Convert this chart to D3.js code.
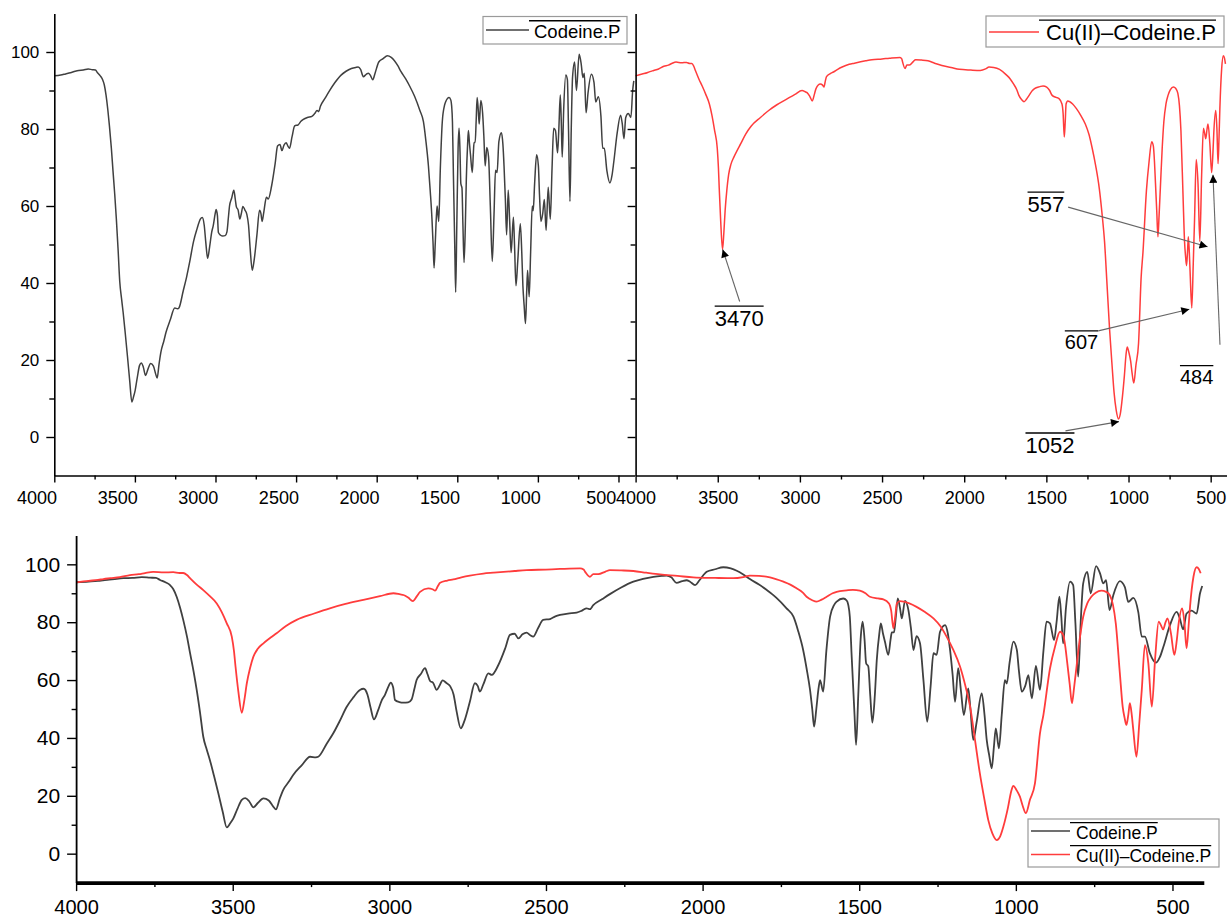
<!DOCTYPE html>
<html>
<head>
<meta charset="utf-8">
<script src="https://cdn.jsdelivr.net/npm/d3@7"></script>
<style>
  html, body { margin: 0; padding: 0; background: #fff; }
  svg { display: block; }
  text { font-family: "Liberation Sans", Arial, sans-serif; fill: #000; }
</style>
</head>
<body>
<svg id="chart" width="1227" height="920"></svg>
<script>
// ---------------- DATA ----------------
const seriesNames = ["Codeine.P", "Cu(II)\u2013Codeine.P"];

// Codeine.P : [wavenumber (cm-1), transmittance (%)]
const codeineSpectrum = [
  [4000, 93.8], [3960, 94.0], [3930, 94.3], [3900, 94.6], [3870, 95.0], [3849, 95.2], [3820, 95.3],
  [3790, 95.6], [3764, 95.4], [3745, 95.3], [3732, 94.6], [3715, 93.8], [3700, 92.8], [3690, 91.5],
  [3679, 88.8], [3668, 85.0], [3658, 80.8], [3646, 75.0], [3636, 69.2], [3625, 63.0], [3615, 56.6],
  [3604, 48.5], [3594, 40.4], [3583, 36.0], [3573, 32.4], [3560, 27.0], [3546, 20.9], [3532, 14.5],
  [3519, 9.1], [3508, 10.5], [3498, 12.2], [3485, 15.5], [3471, 18.6], [3460, 19.2], [3448, 18.2],
  [3434, 16.0], [3420, 17.5], [3402, 19.1], [3385, 18.4], [3370, 16.2], [3362, 15.3], [3350, 19.0],
  [3339, 22.0], [3320, 25.0], [3307, 27.2], [3280, 30.5], [3253, 33.5], [3235, 33.3], [3227, 33.5],
  [3200, 38.0], [3179, 41.6], [3160, 45.5], [3136, 50.8], [3115, 54.0], [3094, 56.6], [3082, 57.0],
  [3070, 55.0], [3060, 50.5], [3049, 46.4], [3036, 49.5], [3024, 53.1], [3014, 54.9], [3002, 58.0],
  [2996, 59.1], [2988, 57.5], [2982, 53.1], [2968, 52.4], [2955, 52.2], [2940, 52.3], [2929, 53.3],
  [2920, 57.0], [2913, 60.0], [2900, 62.0], [2886, 64.1], [2878, 62.0], [2870, 59.7], [2860, 59.0],
  [2849, 56.6], [2840, 58.0], [2830, 59.9], [2818, 59.0], [2806, 57.9], [2795, 55.0], [2785, 49.0],
  [2772, 43.3], [2760, 46.0], [2743, 52.5], [2727, 58.9], [2718, 58.0], [2711, 56.0], [2700, 58.5],
  [2684, 62.3], [2673, 61.8], [2652, 65.2], [2630, 71.0], [2615, 75.6], [2600, 76.0], [2588, 74.4],
  [2575, 75.8], [2562, 76.4], [2550, 75.5], [2541, 75.0], [2525, 78.0], [2509, 80.8], [2487, 81.1],
  [2470, 82.0], [2455, 82.5], [2430, 83.0], [2402, 83.3], [2385, 84.0], [2370, 84.8], [2360, 84.5],
  [2349, 85.9], [2320, 88.0], [2296, 89.7], [2260, 92.0], [2221, 94.0], [2190, 95.0], [2157, 95.7],
  [2130, 96.0], [2115, 96.1], [2100, 95.5], [2083, 93.6], [2065, 94.2], [2051, 94.5], [2040, 94.0],
  [2024, 92.8], [2010, 94.5], [1987, 97.4], [1960, 98.3], [1934, 99.0], [1910, 98.6], [1891, 97.8],
  [1870, 96.5], [1849, 94.9], [1820, 93.0], [1795, 91.1], [1765, 88.5], [1732, 84.8], [1710, 81.9],
  [1695, 77.0], [1679, 70.4], [1668, 64.0], [1657, 56.6], [1650, 50.0], [1644, 43.9], [1637, 50.0],
  [1630, 57.0], [1625, 60.0], [1615, 56.0], [1605, 70.0], [1593, 81.9], [1580, 86.0], [1572, 87.1],
  [1551, 88.2], [1540, 87.5], [1535, 86.0], [1530, 81.9], [1524, 68.0], [1515, 48.0], [1510, 37.6],
  [1503, 55.0], [1495, 75.0], [1489, 80.2], [1483, 74.0], [1478, 65.8], [1471, 64.7], [1465, 55.0],
  [1458, 45.3], [1450, 55.0], [1444, 66.9], [1436, 76.0], [1431, 79.6], [1424, 76.0], [1418, 73.3],
  [1407, 68.7], [1400, 74.0], [1396, 76.5], [1389, 76.5], [1383, 82.0], [1377, 88.2], [1370, 85.0],
  [1364, 81.3], [1354, 87.4], [1343, 84.2], [1335, 78.0], [1327, 70.4], [1317, 75.2], [1306, 72.7],
  [1295, 60.0], [1283, 45.6], [1272, 58.0], [1263, 69.3], [1253, 68.7], [1242, 76.7], [1226, 79.0],
  [1217, 76.0], [1210, 70.4], [1202, 62.0], [1194, 52.5], [1184, 64.1], [1175, 56.0], [1166, 47.9],
  [1152, 57.1], [1145, 50.0], [1136, 39.3], [1125, 45.6], [1109, 55.4], [1100, 48.0], [1093, 39.3],
  [1085, 34.0], [1077, 29.5], [1070, 37.0], [1064, 43.3], [1054, 36.4], [1045, 48.0], [1035, 60.0],
  [1029, 58.8], [1020, 66.0], [1008, 73.3], [997, 70.5], [990, 63.0], [981, 56.0], [970, 58.0],
  [960, 61.7], [949, 53.7], [936, 64.9], [923, 56.6], [912, 70.0], [902, 80.2], [891, 79.6],
  [878, 73.8], [870, 80.0], [861, 88.8], [855, 82.0], [849, 72.7], [840, 85.0], [827, 94.0],
  [817, 92.8], [810, 80.0], [801, 61.2], [793, 80.0], [785, 93.4], [772, 97.4], [761, 90.0],
  [744, 99.4], [731, 96.8], [721, 93.4], [712, 94.5], [701, 84.2], [689, 89.3], [668, 94.2],
  [652, 92.1], [641, 87.0], [625, 88.4], [609, 83.4], [598, 75.0], [588, 75.0], [572, 69.2],
  [553, 66.0], [540, 68.0], [529, 71.5], [508, 79.0], [487, 83.6], [477, 81.5], [466, 77.5],
  [455, 83.0], [439, 84.0], [423, 83.0], [412, 90.0], [405, 92.5]
];

// Cu(II)-Codeine.P : [wavenumber (cm-1), transmittance (%)]
const cuCodeineSpectrum = [
  [4000, 93.8], [3960, 94.3], [3930, 94.6], [3913, 94.9], [3890, 95.2], [3860, 95.6], [3828, 96.3],
  [3800, 96.6], [3780, 97.0], [3754, 97.4], [3720, 97.2], [3690, 97.3], [3670, 97.0], [3658, 97.0],
  [3646, 96.3], [3636, 95.2], [3615, 93.0], [3594, 91.1], [3573, 89.0], [3551, 86.5], [3535, 83.5],
  [3519, 79.6], [3503, 75.0], [3496, 70.0], [3491, 64.6], [3482, 56.0], [3471, 48.7], [3463, 53.0],
  [3455, 58.9], [3445, 64.0], [3434, 68.1], [3420, 70.8], [3402, 72.7], [3380, 74.6], [3360, 76.2],
  [3330, 78.7], [3296, 80.8], [3240, 83.0], [3190, 84.8], [3140, 86.3], [3083, 87.7], [3030, 89.0],
  [2987, 90.0], [2965, 89.6], [2955, 89.4], [2940, 88.5], [2925, 87.3], [2912, 89.0], [2902, 90.5],
  [2876, 91.7], [2862, 91.4], [2854, 90.9], [2845, 92.5], [2838, 93.6], [2815, 94.4], [2796, 94.8],
  [2770, 95.5], [2743, 96.1], [2700, 96.8], [2668, 97.1], [2600, 97.7], [2562, 98.0], [2500, 98.2],
  [2455, 98.4], [2391, 98.6], [2380, 98.2], [2375, 97.4], [2360, 95.7], [2349, 96.6], [2333, 96.6],
  [2310, 97.5], [2296, 98.0], [2260, 97.9], [2221, 97.7], [2180, 97.1], [2136, 96.5], [2080, 96.0],
  [2030, 95.5], [1960, 95.3], [1902, 95.2], [1870, 95.6], [1849, 96.1], [1820, 96.0], [1785, 95.5],
  [1742, 94.0], [1720, 93.0], [1700, 91.7], [1680, 90.2], [1668, 88.8], [1650, 87.6], [1636, 87.1],
  [1620, 87.8], [1604, 88.8], [1585, 90.0], [1572, 90.5], [1540, 91.0], [1520, 91.2], [1498, 90.9],
  [1480, 90.0], [1466, 88.8], [1440, 88.2], [1423, 87.9], [1405, 86.5], [1398, 84.0], [1391, 77.9],
  [1385, 82.0], [1380, 86.5], [1370, 87.3], [1340, 86.5], [1317, 85.3], [1290, 83.5], [1263, 81.3],
  [1240, 78.5], [1221, 75.0], [1200, 70.5], [1178, 64.6], [1160, 57.5], [1146, 50.8], [1130, 39.0],
  [1115, 27.8], [1100, 18.5], [1088, 11.6], [1075, 7.0], [1061, 4.7], [1050, 6.0], [1040, 9.3],
  [1025, 16.0], [1015, 21.5], [1008, 23.4], [998, 22.0], [987, 19.7], [978, 16.5], [968, 14.0],
  [955, 18.6], [939, 24.3], [923, 41.6], [912, 48.0], [891, 64.0], [875, 71.5], [859, 76.7],
  [849, 75.6], [842, 71.5], [836, 66.0], [828, 58.5], [821, 52.0], [814, 57.5], [806, 64.9],
  [795, 75.0], [785, 81.9], [772, 86.5], [759, 88.8], [745, 90.2], [727, 90.9], [712, 90.5],
  [700, 89.3], [690, 86.0], [681, 79.6], [668, 62.4], [659, 50.8], [653, 47.0], [647, 44.5],
  [641, 48.0], [636, 52.0], [630, 48.0], [625, 42.7], [615, 33.5], [606, 45.0], [598, 56.6],
  [588, 72.1], [577, 65.8], [566, 50.8], [555, 68.0], [544, 80.2], [537, 79.0], [530, 77.5],
  [522, 80.0], [516, 81.3], [505, 76.2], [494, 68.7], [486, 74.0], [481, 79.0], [469, 84.8],
  [462, 80.0], [455, 71.0], [449, 78.0], [444, 85.3], [433, 95.7], [423, 99.0], [416, 98.4],
  [410, 96.9]
];

const xMajorTicks = [4000, 3500, 3000, 2500, 2000, 1500, 1000, 500];
const xMinorTicks = [3750, 3250, 2750, 2250, 1750, 1250, 750];
const yMajorTicks = [0, 20, 40, 60, 80, 100];
const yMinorTicks = [10, 30, 50, 70, 90];

// Peak labels in the Cu(II) panel: label, arrow tip [wavenumber, %T]
const peakLabels = ["3470", "557", "607", "1052", "484"];
const peakTips = [[3470, 48.7], [519, 49.4], [630, 33.2], [1058, 4.0], [486, 68.1]];

// ---------------- LAYOUT / STYLE ----------------
const COLORS = { codeine: "#404040", cu: "#ff3c3c" };
const FONT = '"Liberation Sans", Arial, sans-serif';
// label offsets (px) relative to arrow tip: [labelX, labelBaselineY, tailX, tailY, fontSize]
const peakLayout = [
  [-8, 76.5, 17, 52, 22],
  [-180, -34.7, -139.4, -39.7, 22],
  [-124.5, 39.7, -91, 21.7, 20],
  [-93.5, 31.3, -53.5, 9.3, 22],
  [-33, 209, 7, 170, 20]
];

const svg = d3.select("#chart");
const defs = svg.append("defs");
defs.append("marker")
  .attr("id", "arrowhead")
  .attr("viewBox", "0 0 10 10")
  .attr("refX", 10).attr("refY", 5)
  .attr("markerUnits", "userSpaceOnUse")
  .attr("markerWidth", 11).attr("markerHeight", 8)
  .attr("orient", "auto")
  .append("path").attr("d", "M0,0 L10,5 L0,10 Z").attr("fill", "#000");

function drawPanel(cfg) {
  const x = d3.scaleLinear().domain([4000, 400]).range([cfg.x0, cfg.x1]);
  const y = d3.scaleLinear().domain([-10, 110]).range([cfg.yBottom, cfg.yTop]);
  const g = svg.append("g");

  // spectra
  const line = d3.line().x(d => x(d[0])).y(d => y(d[1])).curve(d3.curveMonotoneX);
  cfg.series.forEach(s => {
    g.append("path").datum(s.data)
      .attr("fill", "none").attr("stroke", s.color)
      .attr("stroke-width", cfg.lineWidth).attr("stroke-linejoin", "round")
      .attr("d", line);
  });

  // x axis
  const xAxis = g.append("g").attr("transform", `translate(0,${cfg.yBottom})`)
    .call(d3.axisBottom(x).tickValues(xMajorTicks).tickFormat(d3.format("d"))
      .tickSize(cfg.xTick).tickSizeOuter(0).tickPadding(cfg.xPad));
  xAxis.select(".domain").attr("stroke-width", cfg.xAxisWidth).attr("stroke", "#000");
  xAxis.selectAll(".tick line").attr("stroke-width", 1.4);
  xAxis.selectAll("text").attr("font-size", cfg.xFont).attr("font-family", FONT).attr("fill", "#000")
    .attr("dx", cfg.xLabelShift || 0);
  const xMin = g.append("g").attr("transform", `translate(0,${cfg.yBottom})`)
    .call(d3.axisBottom(x).tickValues(xMinorTicks).tickFormat("").tickSize(cfg.xTickMinor).tickSizeOuter(0));
  xMin.select(".domain").remove();
  xMin.selectAll(".tick line").attr("stroke-width", 1.4);

  // y axis
  const yAxis = g.append("g").attr("transform", `translate(${cfg.x0},0)`)
    .call(d3.axisLeft(y).tickValues(yMajorTicks).tickFormat(cfg.yLabels ? d3.format("d") : "")
      .tickSize(cfg.yTick).tickSizeOuter(0).tickPadding(cfg.yPad));
  yAxis.select(".domain").attr("stroke-width", cfg.yAxisWidth).attr("stroke", "#000");
  yAxis.selectAll(".tick line").attr("stroke-width", 1.4);
  yAxis.selectAll("text").attr("font-size", cfg.yFont).attr("font-family", FONT).attr("fill", "#000");
  const yMin = g.append("g").attr("transform", `translate(${cfg.x0},0)`)
    .call(d3.axisLeft(y).tickValues(yMinorTicks).tickFormat("").tickSize(cfg.yTickMinor).tickSizeOuter(0));
  yMin.select(".domain").remove();
  yMin.selectAll(".tick line").attr("stroke-width", 1.4);

  return { x, y, g };
}

function overText(g, tx, ty, label, size, lineFrom) {
  const t = g.append("text").attr("x", tx).attr("y", ty)
    .attr("font-size", size).attr("font-family", FONT).text(label);
  const w = t.node().getComputedTextLength();
  const oy = ty - size * 0.905;
  g.append("line").attr("x1", lineFrom !== undefined ? lineFrom : tx).attr("x2", tx + w)
    .attr("y1", oy).attr("y2", oy).attr("stroke", "#000").attr("stroke-width", 1.3);
  return w;
}

function legend(cfg) {
  const g = svg.append("g");
  g.append("rect").attr("x", cfg.x).attr("y", cfg.y).attr("width", cfg.w).attr("height", cfg.h)
    .attr("fill", "#fff").attr("stroke", "#9a9a9a").attr("stroke-width", 1.2);
  cfg.items.forEach((it, i) => {
    const ly = cfg.lineY[i];
    g.append("line").attr("x1", cfg.x + 3).attr("x2", cfg.lineEnd).attr("y1", ly).attr("y2", ly)
      .attr("stroke", it.color).attr("stroke-width", 1.6);
    overText(g, cfg.textX, cfg.baseY[i], it.name, cfg.font, cfg.lineEnd);
  });
}

// ---------- Top-left: Codeine.P ----------
drawPanel({
  x0: 54.3, x1: 634.6, yTop: 13.5, yBottom: 475.5,
  series: [{ data: codeineSpectrum, color: COLORS.codeine }],
  lineWidth: 1.5, xTick: 7, xTickMinor: 4, yTick: 8, yTickMinor: 5,
  xPad: 9, yPad: 7, xFont: 18, yFont: 17, xAxisWidth: 1.6, yAxisWidth: 1.6, yLabels: true,
  xLabelShift: -17.7
});
legend({
  x: 483, y: 16.5, w: 144, h: 27.5, lineEnd: 529, textX: 534, font: 18.5,
  lineY: [30], baseY: [37.5],
  items: [{ name: seriesNames[0], color: COLORS.codeine }]
});

// ---------- Top-right: Cu(II)-Codeine.P ----------
const tr = drawPanel({
  x0: 635.6, x1: 1227.1, yTop: 13.5, yBottom: 475.5,
  series: [{ data: cuCodeineSpectrum, color: COLORS.cu }],
  lineWidth: 1.5, xTick: 7, xTickMinor: 4, yTick: 8, yTickMinor: 5,
  xPad: 9, yPad: 7, xFont: 18, yFont: 17, xAxisWidth: 1.6, yAxisWidth: 1.6, yLabels: false
});
legend({
  x: 986, y: 16, w: 238, h: 31, lineEnd: 1039, textX: 1046, font: 22,
  lineY: [32], baseY: [40],
  items: [{ name: seriesNames[1], color: COLORS.cu }]
});

// peak annotations
peakLabels.forEach((lab, i) => {
  const tipX = tr.x(peakTips[i][0]), tipY = tr.y(peakTips[i][1]);
  const L = peakLayout[i];
  tr.g.append("line")
    .attr("x1", tipX + L[2]).attr("y1", tipY + L[3])
    .attr("x2", tipX).attr("y2", tipY)
    .attr("stroke", "#666").attr("stroke-width", 1.1)
    .attr("marker-end", "url(#arrowhead)");
  overText(tr.g, tipX + L[0], tipY + L[1], lab, L[4]);
});

// ---------- Bottom: overlay ----------
drawPanel({
  x0: 76.1, x1: 1203.8, yTop: 535.4, yBottom: 882.6,
  series: [{ data: codeineSpectrum, color: COLORS.codeine }, { data: cuCodeineSpectrum, color: COLORS.cu }],
  lineWidth: 1.8, xTick: 8.5, xTickMinor: 4.5, yTick: 9, yTickMinor: 4.5,
  xPad: 9, yPad: 7, xFont: 20, yFont: 21, xAxisWidth: 3.6, yAxisWidth: 1.8, yLabels: true
});
legend({
  x: 1028, y: 819, w: 191, h: 48, lineEnd: 1070, textX: 1076, font: 17.5,
  lineY: [831, 854.5], baseY: [838.5, 861.5],
  items: [{ name: seriesNames[0], color: COLORS.codeine }, { name: seriesNames[1], color: COLORS.cu }]
});
</script>
</body>
</html>
